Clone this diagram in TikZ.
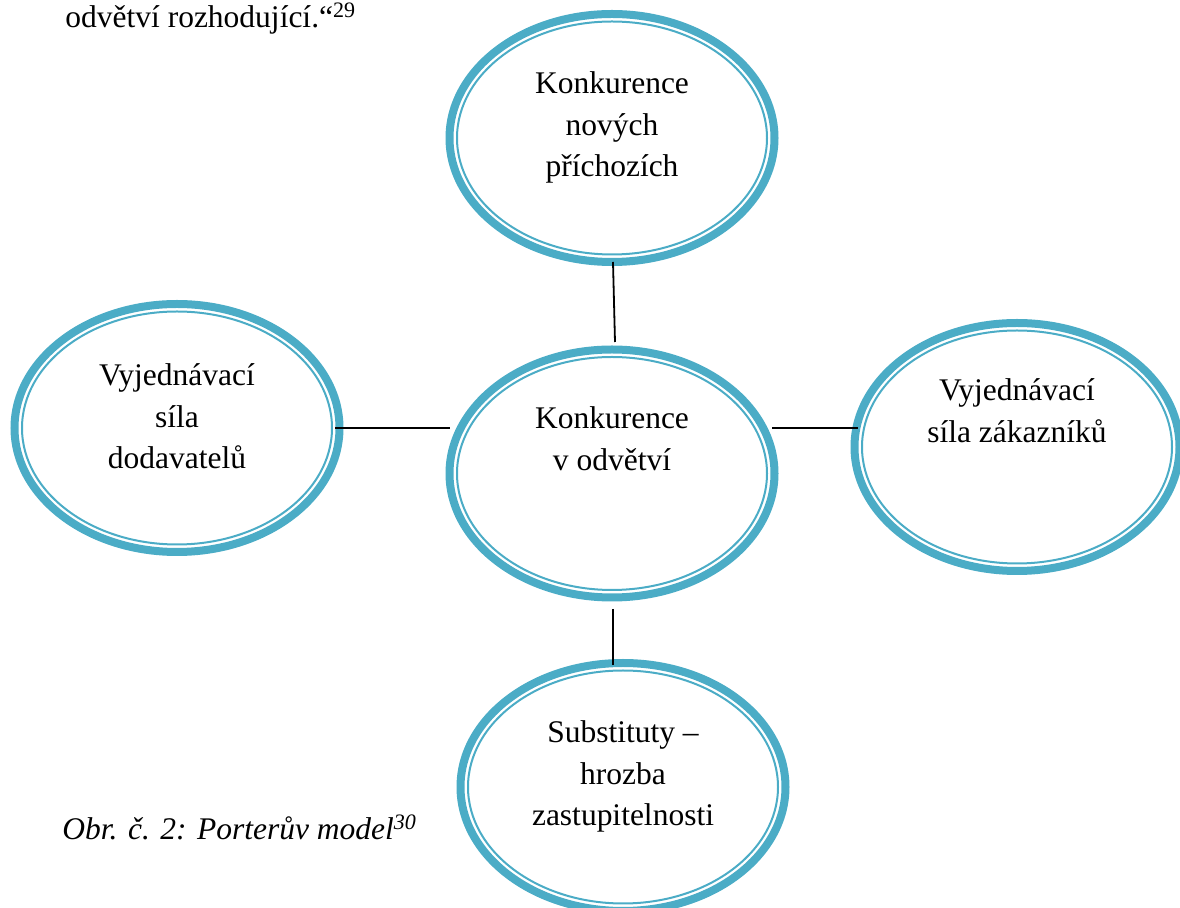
\documentclass[tikz,border=0pt]{standalone}
\usepackage{fontspec}
\setmainfont{Liberation Serif}
\usetikzlibrary{shapes.geometric,calc}
\definecolor{aqua}{RGB}{75,172,198}

\begin{document}
\begin{tikzpicture}[x=0.5pt,y=-0.5pt,
  force/.style={ellipse,draw=aqua,line width=4pt,inner sep=0pt,outer sep=0pt,
    minimum width=162.5pt,minimum height=124pt,
    path picture={\draw[aqua,line width=1pt](path picture bounding box.center) ellipse (77.5pt and 58.25pt);}},
  txt/.style={inner sep=0pt,align=center,font=\fontsize{15.75}{20.75}\selectfont},
  link/.style={line width=0.9pt}]
\useasboundingbox (0,0) rectangle (1180,908);
\clip (0,0) rectangle (1180,908);
%text around the figure
\node[txt,anchor=base west](prev) at (65,28){odvětví rozhodující.“\textsuperscript{29}};
\node[txt,anchor=base west,font=\fontsize{15.75}{20.75}\selectfont\itshape](cap) at (62,840){Obr. č. 2: Porterův model\textsuperscript{30}};
%the five forces
\node[force](entry) at (612,138){};
\node[force](rivalry) at (612,473.5){};
\node[force](supp) at (177,428){};
\node[force](buy) at (1017,447){};
\node[force](subst) at (623,787){};
\node[txt,anchor=north](entryT) at ([shift={(0,-66.5)}]entry.center){Konkurence\\nových\\příchozích};
\node[txt,anchor=north](rivalryT) at ([shift={(0,-67)}]rivalry.center){Konkurence\\v odvětví};
\node[txt,anchor=north](suppT) at ([shift={(0,-64.5)}]supp.center){Vyjednávací\\síla\\dodavatelů};
\node[txt,anchor=north](buyT) at ([shift={(0,-68.5)}]buy.center){Vyjednávací\\síla zákazníků};
\node[txt,anchor=north](substT) at ([shift={(0,-66.5)}]subst.center){Substituty --\\hrozba\\zastupitelnosti};
%links
\draw[link]([shift={(1,0)}]entry.south)--([shift={(3,-7.5)}]rivalry.north);
\draw[link]([shift={(-4.5,0)}]supp.east)--(supp.east -| rivalry.west);
\draw[link]([shift={(-2.5,0)}]supp.east -| rivalry.east)--([shift={(3.5,0)}]supp.east -| buy.west);
\draw[link]([shift={(1,11.5)}]rivalry.south)--([shift={(-10,2)}]subst.north);
\end{tikzpicture}
\end{document}
